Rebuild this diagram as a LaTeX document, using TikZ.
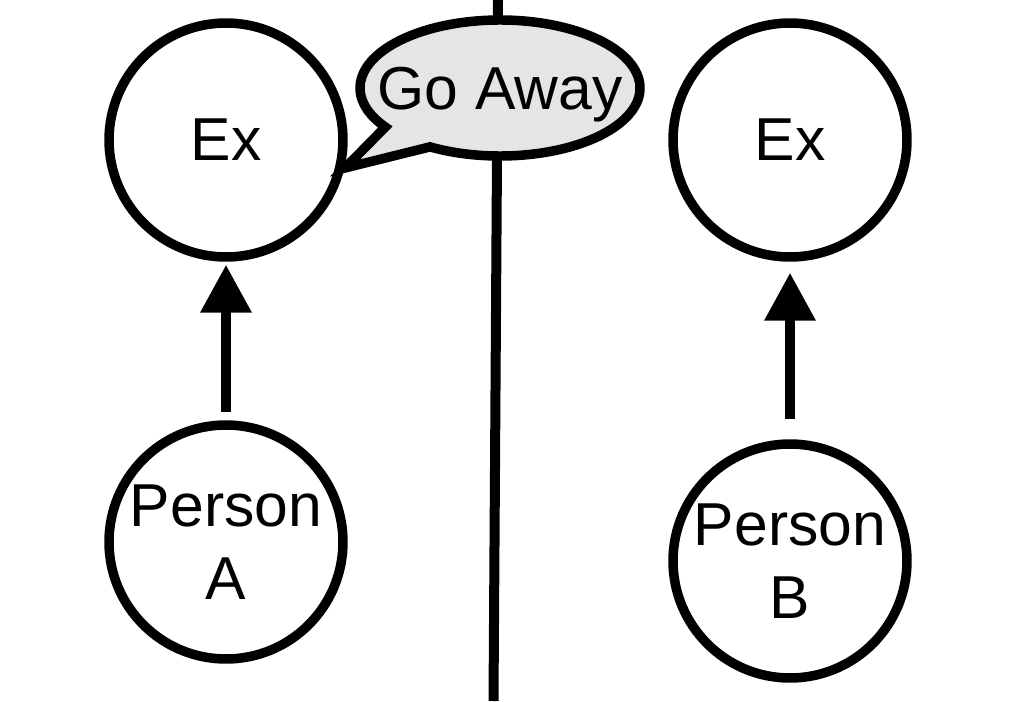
\documentclass[tikz,border=0pt]{standalone}
\usepackage{fontspec}
\setmainfont{Liberation Sans}
\usetikzlibrary{arrows.meta}
\begin{document}
\begin{tikzpicture}[x=0.02cm, y=0.02cm, >={Triangle[length=0.96cm,width=0.98cm]},
	big/.style={font=\fontsize{34.5pt}{41.5pt}\selectfont},
	blob/.style={circle, draw, line width=0.19cm, minimum size=4.68cm, inner sep=0pt, align=center, big}]
	\useasboundingbox (0,0) rectangle (1024,701);
	% dividing wall
	\draw[line width=0.2cm] (498,701) coordinate(T) -- (493.5,0) coordinate(U);
	\node[blob] (exa) at (226,561) {Ex};
	\node[blob] (exb) at (790,561) {Ex};
	\node[blob] (pa) at (226,159) {Person\\A};
	\node[blob] (pb) at (790,140) {Person\\B};
	\foreach \a/\b/\s/\t in {pa/exa/0.16/0.06, pb/exb/0.4/0.22}{
		\draw[->, line width=0.2cm, shorten <=\s cm, shorten >=\t cm] (\a)--(\b);}
	% speech bubble
	\path (500,613) coordinate(M) (345,533) coordinate(tip);
	\draw[line width=0.19cm, fill=gray!20, miter limit=10] (M) ++(240:140 and 68) arc (240:575:140 and 68) -- (tip) -- cycle;
	\node[big, anchor=base] (say) at (500,591) {Go Away};
\end{tikzpicture}
\end{document}
